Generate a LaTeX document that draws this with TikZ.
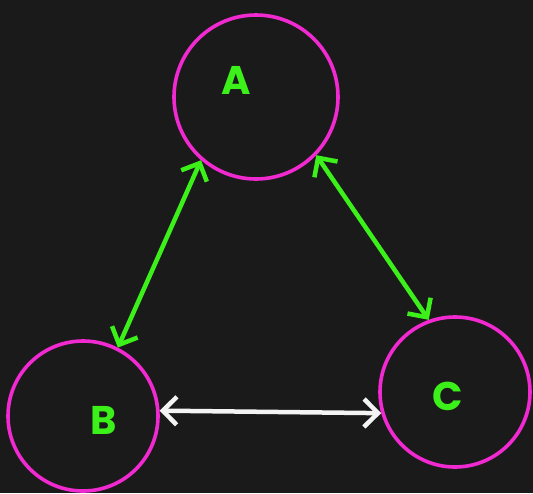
\documentclass[tikz,border=0pt]{standalone}
\usepackage{fontspec}
\setmainfont{Poppins}
\usetikzlibrary{arrows.meta}
\definecolor{bg}{HTML}{1B1A1A}
\definecolor{mag}{HTML}{F02AD0}
\definecolor{grn}{HTML}{3CF01A}
\definecolor{wht}{HTML}{F4F4F4}
\tikzset{
  ring/.style={circle, draw=mag, line width=3.6pt, inner sep=0pt},
  lbl/.style={text=grn, font=\bfseries\fontsize{40}{40}\selectfont},
  link/.style={line width=4.5pt, line cap=round, {Straight Barb[length=14pt,width=28pt,line width=4.5pt]}-{Straight Barb[length=14pt,width=28pt,line width=4.5pt]}},
}
\begin{document}
\begin{tikzpicture}[x=1pt,y=-1pt]
\fill[bg] (0,0) rectangle (533,493);
\useasboundingbox (0,0) rectangle (533,493);
\node[ring, minimum size=164pt] (A) at (256,97) {};
\node[ring, minimum size=150pt] (B) at (83,416) {};
\node[ring, minimum size=150pt] (C) at (455,392) {};
\node[lbl] (la) at (236,80) {A};
\node[lbl] (lb) at (104,420) {B};
\node[lbl] (lc) at (448,396) {C};
\draw[link, grn] (A.229) -- (B.63);
\draw[link, grn] (A.316) -- (C.110);
\draw[link, wht] (B.4) -- (C.196);
\end{tikzpicture}
\end{document}
